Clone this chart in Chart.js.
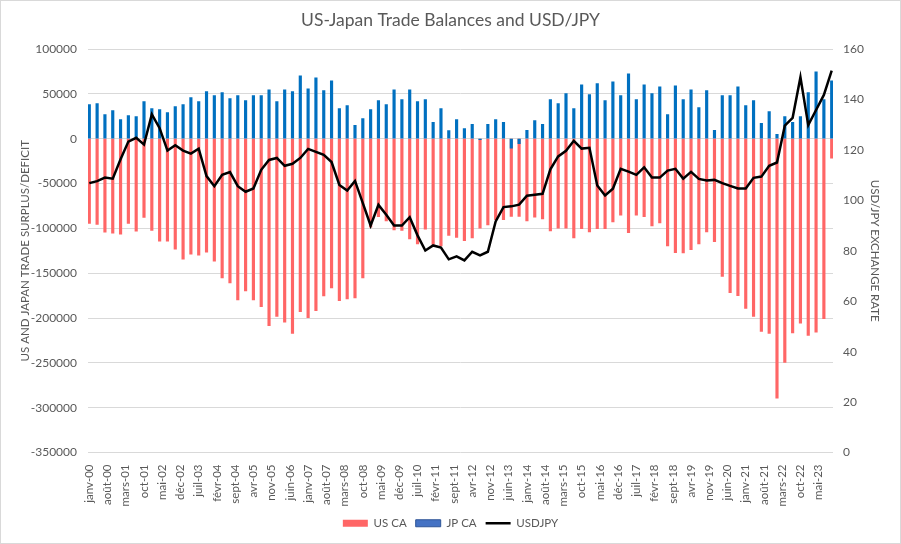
<!DOCTYPE html>
<html>
<head>
<meta charset="utf-8">
<script src="https://cdn.jsdelivr.net/npm/chart.js@4"></script>
<style>
  body { margin: 0; background: #fff; }
  #wrap { position: relative; width: 901px; height: 544px; box-sizing: border-box; border: 1px solid #d9d9d9; background: #fff; }
</style>
</head>
<body>
<div id="wrap"><canvas id="chart"></canvas></div>
<script>
// French month abbreviations used by the x axis
const monthNames = ['janv', 'févr', 'mars', 'avr', 'mai', 'juin', 'juil', 'août', 'sept', 'oct', 'nov', 'déc'];
const firstYear = 2000;
const monthCount = 286; // janv-00 .. oct-23
const tickEvery = 7;    // one label every 7 months

// Quarterly values, Q1 2000 .. Q4 2023 (one per 3 months)
const usCA = [
  -94500, -95600, -104400, -105500, -106600, -94500, -103300, -87800,
  -102200, -114400, -114400, -123200, -134300, -128800, -129900, -126600,
  -136500, -155400, -160900, -179700, -169700, -179700, -187500, -208500,
  -198200, -204600, -217300, -193000, -199600, -191900, -175300, -166400,
  -180800, -178600, -177500, -155400, -98800, -87100, -91700, -101700,
  -102200, -111900, -117400, -100800, -118000, -119500, -107800, -110100,
  -113800, -110800, -99700, -96200, -90400, -90400, -86800, -86800,
  -91700, -87600, -89600, -102800, -99800, -99800, -110800, -100400,
  -103900, -100400, -100400, -92800, -85200, -104800, -85200, -87000,
  -97300, -94000, -119500, -127100, -127300, -123900, -117300, -103900,
  -115000, -153700, -171800, -175000, -189400, -198300, -215000, -217300,
  -289300, -249400, -216700, -205900, -219400, -215900, -200700, -21800
];
const jpCA = [
  38000, 39100, 26900, 31400, 21400, 25800, 24700, 41300,
  33600, 32500, 29200, 35800, 38000, 45800, 41300, 52400,
  48000, 51300, 44600, 48000, 42400, 48000, 48000, 54600,
  41300, 54600, 52400, 70100, 55700, 67900, 53500, 64600,
  33600, 36900, 14800, 22500, 32500, 42400, 38000, 54600,
  43500, 54600, 41300, 43500, 18100, 33600, 9000, 21200,
  11200, 15900, -1000, 15900, 21400, 18100, -10700, -5600,
  9200, 20300, 15900, 43500, 39100, 50200, 33600, 60100,
  49100, 61300, 42400, 63500, 48000, 72300, 43500, 60100,
  50200, 57900, 26900, 59000, 43500, 54600, 34700, 53500,
  9200, 48000, 48000, 57900, 36900, 42400, 17000, 30300,
  4800, 24700, 18100, 24700, 51300, 74500, 43500, 64500
];
const usdJpy = [
  106.8, 107.6, 109.0, 108.6, 116.3, 123.3, 124.8, 122.1,
  134.1, 128.6, 119.7, 121.8, 119.7, 118.5, 120.5, 109.6,
  105.6, 110.1, 111.2, 105.6, 103.4, 104.7, 112.1, 116.0,
  116.8, 113.7, 114.5, 116.8, 120.4, 119.2, 118.0, 115.2,
  106.1, 103.9, 107.7, 98.9, 90.0, 98.2, 94.3, 90.0,
  90.0, 93.3, 86.1, 80.1, 82.1, 81.3, 76.6, 77.8,
  76.2, 79.6, 78.2, 79.6, 91.6, 97.3, 97.6, 98.3,
  101.8, 102.2, 102.6, 112.3, 117.4, 119.6, 123.6, 120.5,
  120.8, 105.9, 101.9, 104.6, 112.5, 111.4, 110.1, 113.1,
  109.0, 109.0, 111.8, 112.5, 108.6, 111.3, 108.5, 107.9,
  108.1, 106.8, 105.7, 104.7, 104.7, 108.9, 109.4, 113.7,
  115.0, 129.6, 132.7, 148.8, 129.8, 135.8, 141.8, 151.4
];

const leftTicks = { min: -350000, max: 100000, step: 50000 };
const rightTicks = { min: 0, max: 160, step: 20 };

// monthly category labels, quarterly values spread onto their month
const months = [];
for (let m = 0; m < monthCount; m++) {
  const yy = String((firstYear + Math.floor(m / 12)) % 100).padStart(2, '0');
  months.push(monthNames[m % 12] + '-' + yy);
}
const toMonthly = (arr) => {
  const out = new Array(monthCount).fill(null);
  arr.forEach((v, q) => { if (q * 3 < monthCount) out[q * 3] = v; });
  return out;
};

const grey = '#595959';
const font = 'Lato, "Open Sans", sans-serif';

const ctx = document.getElementById('chart').getContext('2d');
new Chart(ctx, {
  type: 'bar',
  data: {
    labels: months,
    datasets: [
      {
        label: 'US CA',
        data: toMonthly(usCA),
        backgroundColor: '#ff6666',
        borderWidth: 0,
        barThickness: 2.5,
        grouped: false,
        yAxisID: 'y',
        order: 2,
      },
      {
        label: 'JP CA',
        data: toMonthly(jpCA),
        backgroundColor: '#0070c0',
        borderWidth: 0,
        barThickness: 2.5,
        grouped: false,
        yAxisID: 'y',
        order: 1,
      },
      {
        type: 'line',
        label: 'USDJPY',
        data: toMonthly(usdJpy),
        borderColor: '#000000',
        backgroundColor: '#000000',
        borderWidth: 2.5,
        pointRadius: 0,
        tension: 0,
        spanGaps: true,
        yAxisID: 'y1',
        order: 0,
      },
    ],
  },
  options: {
    responsive: true,
    maintainAspectRatio: false,
    animation: false,
    layout: { padding: { bottom: 4 } },
    plugins: {
      tooltip: { enabled: false },
      title: {
        display: true,
        text: 'US-Japan Trade Balances and USD/JPY',
        color: grey,
        font: { family: font, size: 17.5, weight: 'normal' },
        padding: { top: 9, bottom: 18 },
      },
      legend: {
        position: 'bottom',
        labels: {
          color: grey,
          font: { family: font, size: 11.5 },
          usePointStyle: true,
          pointStyleWidth: 25,
          boxHeight: 7,
          padding: 9,
          sort: (a, b) => a.datasetIndex - b.datasetIndex,
          generateLabels: (chart) => {
            const items = Chart.defaults.plugins.legend.labels.generateLabels(chart);
            items.forEach((it) => {
              if (it.text === 'USDJPY') {
                it.pointStyle = 'line';
                it.strokeStyle = '#000000';
                it.lineWidth = 2.5;
              } else {
                it.pointStyle = 'rect';
                it.lineWidth = it.text === 'JP CA' ? 1 : 0;
                it.strokeStyle = it.text === 'JP CA' ? '#2f5597' : it.fillStyle;
                if (it.text === 'JP CA') it.fillStyle = '#4472c4';
              }
            });
            return items;
          },
        },
      },
    },
    scales: {
      x: {
        type: 'category',
        grid: { display: false },
        border: { display: false },
        ticks: {
          autoSkip: false,
          minRotation: 90,
          maxRotation: 90,
          padding: 4,
          color: grey,
          font: { family: font, size: 11.5 },
          callback: (v, i) => (i % tickEvery === 0 ? months[v] : null),
        },
        afterFit: (s) => { s.height = 56; },
      },
      y: {
        position: 'left',
        min: leftTicks.min,
        max: leftTicks.max,
        grid: { color: '#d9d9d9', lineWidth: 1, drawTicks: false },
        border: { display: false },
        ticks: {
          stepSize: leftTicks.step,
          padding: 11,
          color: grey,
          font: { family: font, size: 12 },
          callback: (v) => String(v),
        },
        title: {
          display: true,
          text: 'US AND JAPAN TRADE SURPLUS/DEFICIT',
          color: grey,
          font: { family: font, size: 11.5 },
          padding: { top: 17, bottom: 0 },
        },
        afterFit: (s) => { s.width = 87; },
      },
      y1: {
        position: 'right',
        min: rightTicks.min,
        max: rightTicks.max,
        grid: { display: false, drawTicks: false },
        border: { display: false },
        ticks: {
          stepSize: rightTicks.step,
          padding: 10,
          color: grey,
          font: { family: font, size: 12 },
        },
        title: {
          display: true,
          text: 'USD/JPY EXCHANGE RATE',
          color: grey,
          font: { family: font, size: 11.5 },
          padding: { top: 18, bottom: 0 },
        },
        afterFit: (s) => { s.width = 67; },
      },
    },
  },
});
</script>
</body>
</html>
